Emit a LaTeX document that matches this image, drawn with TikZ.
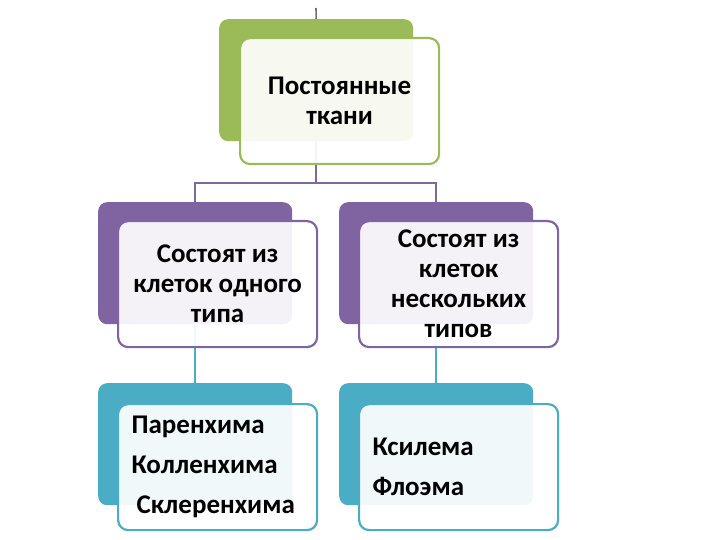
\documentclass[tikz,border=0pt]{standalone}
\usepackage{fontspec}
\setmainfont{Carlito}
\usetikzlibrary{positioning}
\definecolor{leaf}{HTML}{9BBB59}
\definecolor{plum}{HTML}{8064A2}
\definecolor{sea}{HTML}{4BACC6}
\definecolor{tick}{HTML}{6E7466}
\tikzset{
  back/.style={rectangle,fill=#1,rounded corners=9pt,anchor=north west,
    minimum width=194pt,minimum height=122pt,inner sep=0pt},
  front/.style={rectangle,draw=#1,line width=2.2pt,fill=white,fill opacity=0.92,
    text opacity=1,rounded corners=10pt,minimum width=199pt,minimum height=126pt,
    align=center,inner sep=0pt,font=\bfseries\fontsize{27}{30}\selectfont},
  list/.style={align=left,text width=172pt,font=\bfseries\fontsize{27}{40}\selectfont},
  conn/.style={draw=#1,line width=2pt},
}
\begin{document}
\begin{tikzpicture}[x=1pt,y=-1pt]
  \useasboundingbox (0,0) rectangle (720,540);
  % back boxes
  \node[back=leaf] (tb) at (219,19) {};
  \node[back=plum] (ob) at (98,202) {};
  \node[back=plum] (mb) at (339,202) {};
  \node[back=sea] (pb) at (98,383) {};
  \node[back=sea] (xb) at (339,383) {};
  % connectors
  \coordinate (top) at (316,8);
  \draw[conn=tick,line width=1.6pt] (top)--(tb.north);
  \draw[conn=plum!85!gray] (tb.south)--++(0,42)-|(ob.north);
  \draw[conn=plum!85!gray] (tb.south)--++(0,42)-|(mb.north);
  \draw[conn=sea] (ob.south)--(pb.north);
  \draw[conn=sea] (mb.south)--(xb.north);
  % front boxes
  \node[front=leaf,below right=18pt and 20pt of tb.north west] (tf) {Постоянные\\ткани};
  \node[front=plum,below right=18pt and 19pt of ob.north west] (of) {Состоят из\\клеток одного\\типа};
  \node[front=plum,below right=18pt and 19pt of mb.north west] (mf) {Состоят из\\клеток\\нескольких\\типов};
  \node[front=sea,list,below right=20pt and 19pt of pb.north west] (pf) {Паренхима\\Колленхима\\\hspace*{5pt}Склеренхима};
  \node[front=sea,list,below right=20pt and 19pt of xb.north west] (xf) {Ксилема\\Флоэма};
\end{tikzpicture}
\end{document}
